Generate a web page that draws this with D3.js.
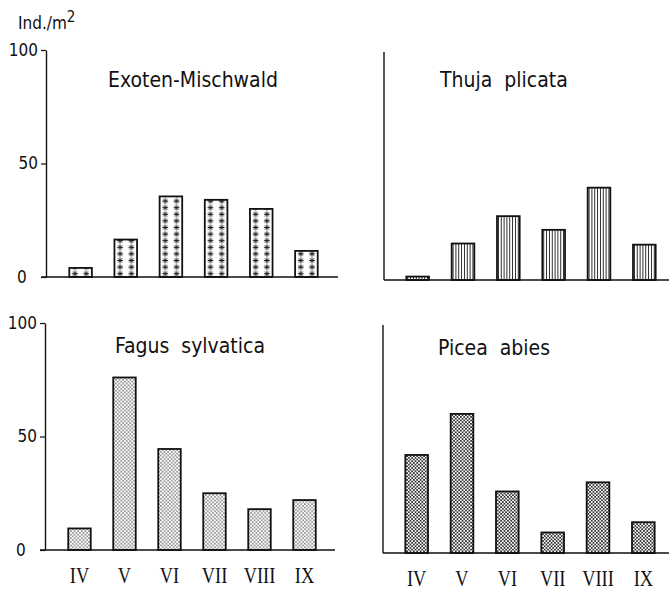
<!DOCTYPE html>
<html>
<head>
<meta charset="utf-8">
<script src="https://cdn.jsdelivr.net/npm/d3@7"></script>
<style>
  body { margin: 0; background: #fff; }
  text { fill: #111; }
  .title { font-family: "DejaVu Sans Condensed", "DejaVu Sans", sans-serif; font-size: 21px; white-space: pre; }
  .tick text { font-family: "DejaVu Sans Condensed", "DejaVu Sans", sans-serif; font-size: 17px; }
  .month { font-family: "Liberation Serif", serif; font-size: 23px; }
</style>
</head>
<body>
<svg id="chart" width="669" height="591"></svg>
<script>
// monthly values, Ind./m2
var months = ["IV", "V", "VI", "VII", "VIII", "IX"];
var exoten = [4, 16.5, 35.5, 34, 30, 11.5];
var thuja = [1.5, 16, 28, 22, 40.5, 15.5];
var fagus = [9.5, 76, 44.5, 25, 18, 22];
var picea = [43, 61, 27, 9, 31, 13.5];
var titles = ["Exoten-Mischwald", "Thuja  plicata", "Fagus  sylvatica", "Picea  abies"];
var yTicks = [0, 50, 100];

var svg = d3.select("#chart");
var defs = svg.append("defs");

// panel layout
var panels = [
    {values: exoten, title: titles[0], ax: 46, y0: 277, y1: 50, xr: [58, 329], end: 338, fill: "star", ticks: true, labels: false, tx: 108, ty: 87},
    {values: thuja, title: titles[1], ax: 384, y0: 280, y1: 52, xr: [395, 667], end: 669, fill: "vline", ticks: false, labels: false, tx: 440, ty: 87},
    {values: fagus, title: titles[2], ax: 45, y0: 550, y1: 323, xr: [57, 327], end: 335, fill: "dots", ticks: true, labels: true, tx: 115, ty: 353},
    {values: picea, title: titles[3], ax: 383, y0: 553, y1: 325, xr: [394, 666], end: 669, fill: "cross", ticks: false, labels: true, tx: 438, ty: 355}
];

/*
 * one pattern per bar so the hatching lines up with the bar edges
 */
function makePattern(id, kind, x0, y0, bw) {
    var p = defs.append("pattern")
        .attr("id", id)
        .attr("patternUnits", "userSpaceOnUse")
        .attr("x", x0)
        .attr("y", y0);
    if (kind === "star") {
        var w = bw / 2, h = 6.6;
        p.attr("width", w).attr("height", h);
        var cx = w / 2, cy = h / 2, r = 2.9;
        var d = "";
        [0, 45, 90, 135].forEach(function(a) {
            var dx = r * Math.cos(a * Math.PI / 180), dy = r * Math.sin(a * Math.PI / 180);
            d += "M" + (cx - dx) + "," + (cy - dy) + "L" + (cx + dx) + "," + (cy + dy);
        });
        p.append("path").attr("d", d).attr("stroke", "#111").attr("stroke-width", 0.9);
    } else if (kind === "vline") {
        var w2 = bw / 8;
        p.attr("width", w2).attr("height", 10);
        p.append("line")
            .attr("x1", w2 / 2).attr("x2", w2 / 2)
            .attr("y1", 0).attr("y2", 10)
            .attr("stroke", "#111").attr("stroke-width", 0.9);
    } else if (kind === "dots") {
        p.attr("width", 3.6).attr("height", 3.6);
        p.append("circle").attr("cx", 0.9).attr("cy", 0.9).attr("r", 0.75).attr("fill", "#222");
        p.append("circle").attr("cx", 2.7).attr("cy", 2.7).attr("r", 0.75).attr("fill", "#222");
    } else {
        p.attr("width", 3.4).attr("height", 3.4);
        p.append("path")
            .attr("d", "M0,0L3.4,3.4M3.4,0L0,3.4M-1,2.4L1,4.4M2.4,-1L4.4,1M2.4,4.4L4.4,2.4M-1,1L1,-1")
            .attr("stroke", "#111").attr("stroke-width", 0.75);
    }
}

panels.forEach(function(pn, pi) {
    var x = d3.scaleBand().domain(months).range(pn.xr).paddingInner(0.5).paddingOuter(0.25);
    var y = d3.scaleLinear().domain([0, 100]).range([pn.y0, pn.y1]);
    var g = svg.append("g");

    // bars
    g.selectAll("rect.bar")
        .data(pn.values)
        .enter().append("rect")
        .attr("class", "bar")
        .attr("x", function(d, i) { return x(months[i]); })
        .attr("y", function(d) { return y(d); })
        .attr("width", x.bandwidth())
        .attr("height", function(d) { return y(0) - y(d); })
        .attr("fill", function(d, i) {
            var id = "pat" + pi + "_" + i;
            makePattern(id, pn.fill, x(months[i]), y(0), x.bandwidth());
            return "url(#" + id + ")";
        })
        .attr("stroke", "#111")
        .attr("stroke-width", 1.8);

    // baseline
    g.append("line")
        .attr("x1", pn.ticks ? pn.ax - 5 : pn.ax)
        .attr("x2", pn.end)
        .attr("y1", y(0)).attr("y2", y(0))
        .attr("stroke", "#111").attr("stroke-width", 1.4);

    // y axis
    if (pn.ticks) {
        var axis = g.append("g")
            .attr("transform", "translate(" + pn.ax + ",0)")
            .call(d3.axisLeft(y).tickValues(yTicks).tickSize(5).tickSizeOuter(0).tickPadding(3));
        axis.select(".domain").attr("stroke", "#111").attr("stroke-width", 1.4);
        axis.selectAll(".tick line").attr("stroke", "#111").attr("stroke-width", 1.2);
        axis.selectAll(".tick text").attr("fill", "#111")
            .filter(function(d) { return d === 0; })
            .attr("text-anchor", "start").attr("x", -29);
    } else {
        g.append("line")
            .attr("x1", pn.ax).attr("x2", pn.ax)
            .attr("y1", y(0)).attr("y2", y(100))
            .attr("stroke", "#111").attr("stroke-width", 1.4);
    }

    // title
    g.append("text")
        .attr("class", "title")
        .attr("x", pn.tx)
        .attr("y", pn.ty)
        .text(pn.title);

    // month labels
    if (pn.labels) {
        g.selectAll("text.month")
            .data(months)
            .enter().append("text")
            .attr("class", "month")
            .attr("text-anchor", "middle")
            .attr("transform", function(m) {
                return "translate(" + (x(m) + x.bandwidth() / 2) + "," + (y(0) + 33) + ") scale(0.8,1)";
            })
            .text(function(m) { return m; });
    }
});

// unit label
var unit = svg.append("text")
    .attr("x", 18).attr("y", 29)
    .style("font-family", "'DejaVu Sans Condensed', 'DejaVu Sans', sans-serif")
    .style("font-size", "17px")
    .text("Ind./m");
unit.append("tspan")
    .attr("dy", -7)
    .style("font-size", "15px")
    .text("2");
</script>
</body>
</html>
